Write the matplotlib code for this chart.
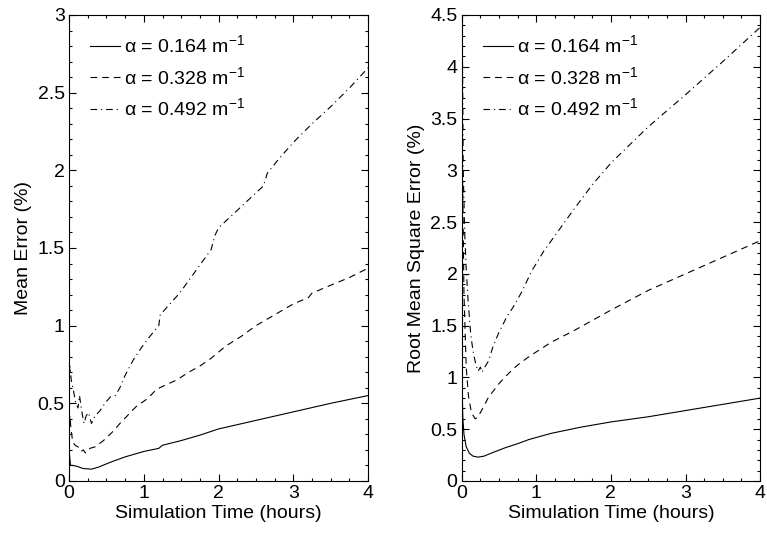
import matplotlib
matplotlib.use('Agg')
import matplotlib.pyplot as plt
from matplotlib.ticker import MultipleLocator, FuncFormatter

plt.rcParams['font.family'] = ['Liberation Sans', 'DejaVu Sans']
plt.rcParams['mathtext.fontset'] = 'custom'
plt.rcParams['mathtext.rm'] = 'Liberation Sans'
plt.rcParams['mathtext.it'] = 'Liberation Sans:italic'
plt.rcParams['font.size'] = 14

labels = ['α = 0.164 m$^{-1}$', 'α = 0.328 m$^{-1}$', 'α = 0.492 m$^{-1}$']

# Mean error (%)
t_me1 = [0, 0.02, 0.05, 0.1, 0.19, 0.3, 0.4, 0.55, 0.75, 1.0, 1.2, 1.25, 1.5, 1.75, 2.0, 2.5, 3.0, 3.5, 4.0]
me1 = [0.2, 0.1, 0.1, 0.095, 0.08, 0.076, 0.09, 0.12, 0.155, 0.19, 0.21, 0.23, 0.26, 0.295, 0.335, 0.39, 0.445, 0.5, 0.55]

t_me2 = [0, 0.01, 0.03, 0.05, 0.08, 0.12, 0.16, 0.19, 0.22, 0.28, 0.35, 0.46, 0.57, 0.68, 0.8, 0.9, 1.05,
         1.17, 1.3, 1.44, 1.6, 1.75, 1.9, 2.1, 2.3, 2.5, 2.75, 3.0, 3.2, 3.25, 3.5, 3.75, 4.0]
me2 = [0.3, 0.42, 0.32, 0.25, 0.23, 0.22, 0.19, 0.2, 0.18, 0.21, 0.22, 0.26, 0.31, 0.37, 0.43, 0.48, 0.53,
       0.59, 0.62, 0.65, 0.7, 0.74, 0.79, 0.87, 0.93, 1.0, 1.07, 1.14, 1.18, 1.21, 1.26, 1.31, 1.37]

t_me3 = [0, 0.01, 0.03, 0.06, 0.09, 0.12, 0.14, 0.17, 0.2, 0.23, 0.26, 0.3, 0.35, 0.41, 0.48, 0.55, 0.62,
         0.68, 0.75, 0.86, 0.97, 1.08, 1.2, 1.22, 1.35, 1.48, 1.6, 1.75, 1.9, 1.95, 2.0, 2.2, 2.4, 2.6,
         2.65, 2.8, 3.0, 3.25, 3.5, 3.75, 4.0]
me3 = [0.5, 0.74, 0.65, 0.58, 0.5, 0.47, 0.55, 0.45, 0.37, 0.42, 0.44, 0.37, 0.42, 0.45, 0.5, 0.54, 0.55,
       0.6, 0.68, 0.78, 0.86, 0.93, 1.0, 1.07, 1.14, 1.21, 1.29, 1.39, 1.49, 1.58, 1.63, 1.72, 1.81, 1.9,
       1.98, 2.07, 2.18, 2.3, 2.41, 2.53, 2.66]

# Root mean square error (%)
t_rms1 = [0, 0.005, 0.015, 0.03, 0.06, 0.1, 0.15, 0.22, 0.3, 0.4, 0.58, 0.75, 0.9, 1.2, 1.6, 2.0, 2.5, 3.0, 3.5, 4.0]
rms1 = [1.6, 0.9, 0.6, 0.45, 0.33, 0.27, 0.24, 0.23, 0.24, 0.27, 0.32, 0.36, 0.4, 0.46, 0.52, 0.57, 0.62, 0.68, 0.74, 0.8]

t_rms2 = [0, 0.01, 0.03, 0.06, 0.09, 0.13, 0.18, 0.22, 0.28, 0.36, 0.5, 0.63, 0.75, 0.9, 1.05, 1.2, 1.5,
          1.75, 2.0, 2.5, 3.0, 3.5, 4.0]
rms2 = [3.9, 3.0, 1.8, 1.1, 0.82, 0.66, 0.6, 0.62, 0.7, 0.81, 0.94, 1.04, 1.12, 1.2, 1.27, 1.34, 1.45,
        1.55, 1.65, 1.84, 2.0, 2.16, 2.32]

t_rms3 = [0, 0.01, 0.02, 0.04, 0.06, 0.085, 0.12, 0.15, 0.19, 0.22, 0.25, 0.27, 0.31, 0.36, 0.42, 0.49,
          0.6, 0.69, 0.8, 0.94, 1.1, 1.26, 1.5, 1.75, 2.0, 2.5, 3.0, 3.5, 4.0]
rms3 = [4.2, 4.1, 3.0, 2.39, 2.05, 1.74, 1.42, 1.26, 1.12, 1.06, 1.1, 1.05, 1.1, 1.16, 1.3, 1.42,
        1.58, 1.68, 1.82, 2.03, 2.22, 2.38, 2.62, 2.86, 3.07, 3.42, 3.73, 4.05, 4.38]

styles = ['-', (0, (6, 4.5)), (0, (6, 3.5, 1, 3.5))]

fig = plt.figure(figsize=(7.67, 5.35), dpi=100)
ax1 = fig.add_axes([0.090, 0.101, 0.390, 0.871])
ax2 = fig.add_axes([0.602, 0.101, 0.389, 0.871])

fmt = FuncFormatter(lambda v, p: '%g' % v)

panels = [
    (ax1, [(t_me1, me1), (t_me2, me2), (t_me3, me3)], 3, 'Mean Error (%)'),
    (ax2, [(t_rms1, rms1), (t_rms2, rms2), (t_rms3, rms3)], 4.5, 'Root Mean Square Error (%)'),
]

for ax, series, ymax, ylab in panels:
    for (t, v), ls, lab in zip(series, styles, labels):
        ax.plot(t, v, color='black', linestyle=ls, linewidth=0.8, label=lab)
    ax.set_xlim(0, 4)
    ax.set_ylim(0, ymax)
    ax.xaxis.set_major_locator(MultipleLocator(1))
    ax.xaxis.set_minor_locator(MultipleLocator(0.25))
    ax.yaxis.set_major_locator(MultipleLocator(0.5))
    ax.yaxis.set_minor_locator(MultipleLocator(0.1))
    ax.yaxis.set_major_formatter(fmt)
    ax.tick_params(which='both', direction='in', top=True, right=True, width=0.8)
    ax.tick_params(which='major', length=5, pad=3)
    ax.tick_params(which='minor', length=2.5)
    for s in ax.spines.values():
        s.set_linewidth(0.8)
    ax.set_xlabel('Simulation Time (hours)', labelpad=2)
    ax.set_ylabel(ylab, labelpad=4)
    ax.legend(loc='upper left', bbox_to_anchor=(0.045, 0.975), frameon=False,
              handlelength=1.55, handletextpad=0.2, labelspacing=0.5, borderaxespad=0,
              fontsize=14)

fig.savefig('out.png', dpi=100)
